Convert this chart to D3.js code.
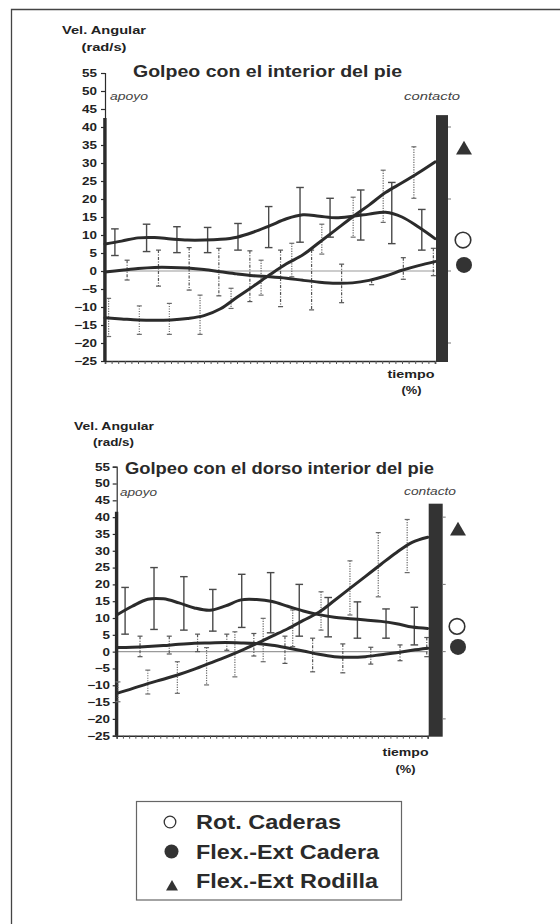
<!DOCTYPE html>
<html><head><meta charset="utf-8">
<script src="https://cdn.jsdelivr.net/npm/d3@7"></script>
<style>body{margin:0;background:#fff}svg{display:block}text{font-family:"Liberation Sans",Arial,sans-serif}</style>
</head><body>
<svg id="c" width="560" height="924"></svg>
<script>
// ---------- DATA ----------
const yTicks = [55,50,45,40,35,30,25,20,15,10,5,0,-5,-10,-15,-20,-25];
const timeGrid = [0,5,10,15,20,25,30,35,40,45,50,55,60,65,70,75,80,85,90,95,100];
const seriesNames = ["Rot. Caderas","Flex.-Ext Cadera","Flex.-Ext Rodilla"];
const titles = ["Golpeo con el interior del pie","Golpeo con el dorso interior del pie"];

// Chart 1 : mean curves
const c1Rot  = [7.5,8.3,9.2,9.3,8.9,8.6,8.6,8.8,9.4,10.8,12.6,14.5,15.6,15.2,14.8,15.2,15.8,16.3,15.0,12.2,9.0];
const c1Cad  = [-0.3,0.2,0.7,1.0,1.0,0.8,0.4,-0.2,-0.8,-1.3,-1.6,-2.0,-2.6,-3.1,-3.4,-3.3,-2.6,-1.4,0.2,1.5,2.6];
const c1Rod  = [-13,-13.3,-13.6,-13.7,-13.6,-13.2,-12.4,-10.5,-7.3,-4.2,-1.0,2.0,4.5,8.0,11.5,15.0,18.3,21.8,24.5,27.3,30.3];
// Chart 1 : error bars (time %, high, low)
const c1RotBarT = [3,12.6,21.8,31.1,40.3,49.6,59.1,68.2,77.5,86.9,96];
const c1RotBarHi = [11.7,13,12.3,12.1,13.2,17.9,23.2,20.2,22.5,24.6,17.1];
const c1RotBarLo = [4.3,5.4,5.1,5.1,5.8,6.5,8,9.4,8.6,7.6,5.8];
const c1CadBarT = [6.7,16.2,25.5,34.5,43.9,53.2,62.6,71.7,80.8,90.4,99.5];
const c1CadBarHi = [3,5.8,6.5,6.3,5.6,5.8,5.8,1.9,-2.6,3.7,6.3];
const c1CadBarLo = [-2.5,-4.2,-5.3,-6.9,-8.5,-9.9,-10.8,-8.8,-3.8,-2.3,-1.3];
const c1RodBarT = [1.1,10.4,19.5,28.8,38.2,47.3,56.6,65.7,75.2,84.3,93.6];
const c1RodBarHi = [-7.6,-9.7,-9,-6.7,-4.8,3,7.7,13,20.5,28,34.5];
const c1RodBarLo = [-18.2,-17.6,-17.6,-17.6,-10.4,-6.7,-1.6,4.7,9.4,13.5,20.2];
const c1Markers = [8.6,1.7,33.9];
const c1SupportTop = 42.5, c1ContactTop = 43.3;

// Chart 2 : mean curves
const c2Rot  = [10.9,13.5,15.6,15.7,14.5,13.0,12.3,13.6,15.4,15.5,14.9,13.5,12.1,11.0,10.2,9.8,9.4,9.0,8.3,7.3,6.9];
const c2Cad  = [1.2,1.3,1.5,1.8,2.2,2.5,2.6,2.7,2.6,2.4,1.9,1.1,0.2,-0.8,-1.5,-1.7,-1.5,-0.9,-0.3,0.4,1.0];
const c2Rod  = [-12.4,-11,-9.5,-8.2,-6.8,-5.2,-3.4,-1.6,0.3,2.4,4.6,6.8,9.3,11.7,15.2,18.8,22.4,26,29.5,32.5,34];
const c2RotBarT = [2.7,12,21.6,30.9,40.2,49.5,58.7,68,77.4,86.6,95.7];
const c2RotBarHi = [19.1,25,22.3,18.5,23,23.5,20,16.1,14.8,12.7,13.2];
const c2RotBarLo = [5.2,6.6,6.4,6.1,7.2,5.6,4.6,4.4,4,4,2];
const c2CadBarT = [7.5,16.9,26,35.4,44.1,54.1,63,72.7,81.7,91.1,99.7];
const c2CadBarHi = [4.6,4.6,5.2,5.2,5.4,4.6,4,2.3,1.3,2,4.2];
const c2CadBarLo = [-1.5,-0.7,0,0.4,-1.3,-3.5,-6,-6.3,-3.7,-2.7,-1.5];
const c2RodBarT = [0.4,10,19.5,28.9,38,47.1,56.6,65.7,75,84.1,93.4];
const c2RodBarHi = [-9,-5.5,-3,1.2,5.9,9.9,12.4,17.8,27,35.4,39.3];
const c2RodBarLo = [-14.9,-12.6,-12.4,-9.9,-7.5,-3,1.5,6.4,10.9,16.3,23.5];
const c2Markers = [7.5,1.4,36.2];
const c2SupportTop = 41.6, c2ContactTop = 44;

// ---------- DRAW ----------
const svg = d3.select("#c");
const ink = "#2b2b2b";
function fit(sel, w){ sel.attr("textLength", w).attr("lengthAdjust","spacingAndGlyphs"); return sel; }
function stretchBy(sel, f){ sel.each(function(){ const l=this.getComputedTextLength(); d3.select(this).attr("textLength", l*f).attr("lengthAdjust","spacingAndGlyphs"); }); }

// outer frame
svg.append("path").attr("d","M11.5,924V9.5H560").attr("fill","none").attr("stroke","#444").attr("stroke-width",1.3);

const layouts = [
  {L:105,R:435,T:73,B:361,barW:12,labelRight:97,
   vel:{x:104,y:34,w:84},rad:{x:104,y:50.5,w:45},
   title:{x:133,y:77,w:269},apoyo:{x:110,y:100,w:38},contacto:{x:404,y:100,w:56},
   tiempo:{x:411,y:377.5,w:47},pct:{x:411.5,y:394,w:20},mx:464},
  {L:116.7,R:427.7,T:466.7,B:735.7,barW:14,labelRight:110,
   vel:{x:114,y:430,w:80},rad:{x:113.5,y:445.5,w:41},
   title:{x:125,y:474,w:309},apoyo:{x:120,y:496,w:37},contacto:{x:404,y:495,w:52},
   tiempo:{x:405.5,y:756,w:46},pct:{x:405.5,y:773,w:20},mx:458}
];
const chartData = [
  {title:titles[0],lines:[c1Rot,c1Cad,c1Rod],
   bars:[[c1RotBarT,c1RotBarHi,c1RotBarLo],[c1CadBarT,c1CadBarHi,c1CadBarLo],[c1RodBarT,c1RodBarHi,c1RodBarLo]],
   markers:c1Markers,supportTop:c1SupportTop,contactTop:c1ContactTop},
  {title:titles[1],lines:[c2Rot,c2Cad,c2Rod],
   bars:[[c2RotBarT,c2RotBarHi,c2RotBarLo],[c2CadBarT,c2CadBarHi,c2CadBarLo],[c2RodBarT,c2RodBarHi,c2RodBarLo]],
   markers:c2Markers,supportTop:c2SupportTop,contactTop:c2ContactTop}
];
const barStyles = [
  {stroke:"#4a4a4a",w:1.4,dash:null,cap:3.8},
  {stroke:"#555",w:1.2,dash:"3,1.5,1,1.5",cap:2.5},
  {stroke:"#6a6a6a",w:1.2,dash:"1.2,1.3",cap:2.5}
];

chartData.forEach((cd,ci)=>{
  const lo = layouts[ci];
  const x = d3.scaleLinear().domain([0,100]).range([lo.L,lo.R]);
  const y = d3.scaleLinear().domain([-25,55]).range([lo.B,lo.T]);
  const g = svg.append("g");

  // zero line
  g.append("line").attr("x1",x(0)).attr("x2",x(100)).attr("y1",y(0)).attr("y2",y(0))
    .attr("stroke","#9a9a9a").attr("stroke-width",1.1);

  // x axis
  const xa = g.append("g").attr("transform",`translate(0,${lo.B})`)
    .call(d3.axisBottom(x).tickValues(d3.range(0,101,2)).tickSize(3).tickFormat(""));
  xa.select(".domain").attr("stroke",ink).attr("stroke-width",1.6);
  xa.selectAll(".tick line").attr("stroke","#555").attr("stroke-width",1);

  // y axis
  const ya = g.append("g").attr("transform",`translate(${lo.L},0)`)
    .call(d3.axisLeft(y).tickValues(yTicks).tickSize(4).tickPadding(lo.L-lo.labelRight-4));
  ya.select(".domain").attr("stroke",ink).attr("stroke-width",1.2);
  ya.selectAll(".tick line").attr("stroke",ink).attr("stroke-width",1.2);
  ya.selectAll(".tick text").attr("fill","#222").attr("font-size",10.5).attr("font-weight","bold")
    .attr("font-family","Liberation Sans, Arial, sans-serif");
  stretchBy(ya.selectAll(".tick text"),1.28);

  // support (apoyo) thick axis portion
  g.append("rect").attr("x",lo.L-1.8).attr("width",3.4).attr("y",y(cd.supportTop)).attr("height",lo.B-y(cd.supportTop)).attr("fill",ink);

  // contact bar
  g.append("rect").attr("x",lo.R+1).attr("width",lo.barW).attr("y",y(cd.contactTop)).attr("height",lo.B-y(cd.contactTop)+1).attr("fill","#333");
  [40,20,0,-20].forEach(v=>{
    g.append("line").attr("x1",lo.R+1+lo.barW).attr("x2",lo.R+4+lo.barW).attr("y1",y(v)).attr("y2",y(v)).attr("stroke","#777").attr("stroke-width",1);
  });

  // error bars
  cd.bars.forEach((b,si)=>{
    const st = barStyles[si];
    const [T,H,Lw] = b;
    T.forEach((t,i)=>{
      const gg = g.append("g").attr("stroke",st.stroke).attr("stroke-width",st.w);
      const v = gg.append("line").attr("x1",x(t)).attr("x2",x(t)).attr("y1",y(H[i])).attr("y2",y(Lw[i]));
      if(st.dash) v.attr("stroke-dasharray",st.dash);
      [H[i],Lw[i]].forEach(val=>{
        gg.append("line").attr("x1",x(t)-st.cap).attr("x2",x(t)+st.cap).attr("y1",y(val)).attr("y2",y(val));
      });
    });
  });

  // mean lines
  const line = d3.line().x((d,i)=>x(timeGrid[i])).y(d=>y(d)).curve(d3.curveCatmullRom.alpha(0.5));
  cd.lines.forEach(vals=>{
    g.append("path").attr("d",line(vals)).attr("fill","none").attr("stroke",ink).attr("stroke-width",3).attr("stroke-linecap","round");
  });

  // end markers
  const [mRot,mCad,mRod] = cd.markers;
  g.append("circle").attr("cx",lo.mx-1).attr("cy",y(mRot)).attr("r",7.8).attr("fill","#fff").attr("stroke","#333").attr("stroke-width",1.6);
  g.append("circle").attr("cx",lo.mx).attr("cy",y(mCad)).attr("r",8).attr("fill","#333");
  g.append("path").attr("d",d3.symbol(d3.symbolTriangle,110)()).attr("transform",`translate(${lo.mx},${y(mRod)+1})`).attr("fill","#333");

  // texts
  fit(g.append("text").attr("x",lo.vel.x).attr("y",lo.vel.y).attr("text-anchor","middle").attr("font-size",11.5).attr("font-weight","bold").attr("fill","#222").text("Vel. Angular"),lo.vel.w);
  fit(g.append("text").attr("x",lo.rad.x).attr("y",lo.rad.y).attr("text-anchor","middle").attr("font-size",11.5).attr("font-weight","bold").attr("fill","#222").text("(rad/s)"),lo.rad.w);
  fit(g.append("text").attr("x",lo.title.x).attr("y",lo.title.y).attr("font-size",17).attr("font-weight","bold").attr("fill","#2a2a2a").text(cd.title),lo.title.w);
  fit(g.append("text").attr("x",lo.apoyo.x).attr("y",lo.apoyo.y).attr("font-size",11).attr("font-style","italic").attr("fill","#444").text("apoyo"),lo.apoyo.w);
  fit(g.append("text").attr("x",lo.contacto.x).attr("y",lo.contacto.y).attr("font-size",11).attr("font-style","italic").attr("fill","#444").text("contacto"),lo.contacto.w);
  fit(g.append("text").attr("x",lo.tiempo.x).attr("y",lo.tiempo.y).attr("text-anchor","middle").attr("font-size",11.5).attr("font-weight","bold").attr("fill","#222").text("tiempo"),lo.tiempo.w);
  fit(g.append("text").attr("x",lo.pct.x).attr("y",lo.pct.y).attr("text-anchor","middle").attr("font-size",11.5).attr("font-weight","bold").attr("fill","#222").text("(%)"),lo.pct.w);
});

// legend
const lg = svg.append("g");
lg.append("rect").attr("x",136.5).attr("y",801.5).attr("width",265).attr("height",98.5).attr("fill","none").attr("stroke","#666").attr("stroke-width",1.2);
const legY = [829,858.5,888];
const legW = [145,183,182];
seriesNames.forEach((n,i)=>{
  fit(lg.append("text").attr("x",196).attr("y",legY[i]).attr("font-size",20.5).attr("font-weight","bold").attr("fill","#2a2a2a").text(n),legW[i]);
});
lg.append("circle").attr("cx",170).attr("cy",822).attr("r",5.8).attr("fill","#fff").attr("stroke","#333").attr("stroke-width",1.3);
lg.append("circle").attr("cx",171.5).attr("cy",851.5).attr("r",7).attr("fill","#333");
lg.append("path").attr("d",d3.symbol(d3.symbolTriangle,62)()).attr("transform","translate(172,887)").attr("fill","#333");
</script>
</body></html>
